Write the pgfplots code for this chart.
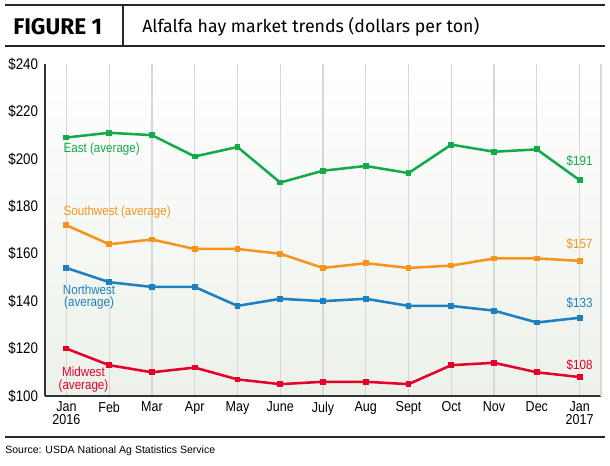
\documentclass[border=0pt]{standalone}
\usepackage{pgfplots}
\pgfplotsset{compat=1.18}
\usepackage{fontspec}
\setmainfont{Liberation Sans}
\newfontfamily\condfont[FakeStretch=0.87]{Liberation Sans}
\newfontfamily\headfont{Fira Sans}
\definecolor{cEast}{RGB}{19,170,75}
\definecolor{cSW}{RGB}{247,148,29}
\definecolor{cNW}{RGB}{30,128,192}
\definecolor{cMW}{RGB}{228,0,43}
\definecolor{cGrid}{RGB}{215,215,215}
\definecolor{cBg}{RGB}{236,241,233}
\begin{document}
\begin{tikzpicture}
\path[use as bounding box] (0,0) rectangle (457.5pt,-348.75pt);
% header
\draw[line width=1.6pt,black!85] (3.75pt,-3.75pt) -- (453.75pt,-3.75pt);
\draw[line width=1.4pt,black!85] (3.75pt,-34.5pt) -- (453.75pt,-34.5pt);
\draw[line width=0.8pt,black!85] (92.25pt,-3.75pt) -- (92.25pt,-34.5pt);
\node[anchor=west,inner sep=0pt] at (9.75pt,-19.9pt) {\headfont\bfseries\fontsize{17}{17}\selectfont FIGURE 1};
\node[anchor=west,inner sep=0pt] at (106.5pt,-20.2pt) {\headfont\fontsize{13.3}{13.3}\selectfont Alfalfa hay market trends (dollars per ton)};
% footer
\draw[line width=1.6pt,black!85] (3.75pt,-327.75pt) -- (453.75pt,-327.75pt);
\node[anchor=west,inner sep=0pt] at (3.75pt,-338.25pt) {\fontsize{7.9}{8}\selectfont Source: USDA National Ag Statistics Service};
\begin{axis}[
  at={(33.75pt,-297pt)}, anchor=south west,
  scale only axis, width=417pt, height=249pt,
  xmin=-0.5, xmax=12.5, ymin=100, ymax=240,
  axis x line*=bottom, axis y line*=left,
  axis line style={-, draw=black!80, line width=0.8pt},
  axis background/.style={top color=white, bottom color=cBg},
  xtick={0,...,12},
  xticklabels={{Jan\\2016},Feb,Mar,Apr,May,June,July,Aug,Sept,Oct,Nov,Dec,{Jan\\2017}},
  xticklabel style={align=center, inner sep=0pt, yshift=-4pt, font=\condfont\fontsize{10.8}{9.8}\selectfont},
  extra x ticks={12.5}, extra x tick labels={},
  extra x tick style={grid=major},
  ytick={100,120,...,240},
  yticklabels={\$100,\$120,\$140,\$160,\$180,\$200,\$220,\$240},
  yticklabel style={inner sep=0pt, xshift=-5pt, font=\condfont\fontsize{11.5}{11.5}\selectfont},
  major tick length=0pt,
  xmajorgrids=true,
  grid style={draw=cGrid, line width=0.9pt},
  clip=false,
  every axis plot/.append style={line width=1.9pt, mark=square*, mark size=1.8pt, mark options={solid, line width=0pt}},
]
\addplot[color=cEast] coordinates {(0,209)(1,211)(2,210)(3,201)(4,205)(5,190)(6,195)(7,197)(8,194)(9,206)(10,203)(11,204)(12,191)};
\addplot[color=cSW] coordinates {(0,172)(1,164)(2,166)(3,162)(4,162)(5,160)(6,154)(7,156)(8,154)(9,155)(10,158)(11,158)(12,157)};
\addplot[color=cNW] coordinates {(0,154)(1,148)(2,146)(3,146)(4,138)(5,141)(6,140)(7,141)(8,138)(9,138)(10,136)(11,131)(12,133)};
\addplot[color=cMW] coordinates {(0,120)(1,113)(2,110)(3,112)(4,107)(5,105)(6,106)(7,106)(8,105)(9,113)(10,114)(11,110)(12,108)};
\begin{scope}[every node/.style={inner sep=0pt, font=\condfont\fontsize{10}{9.3}\selectfont, align=center}]
\node[anchor=west, text=cEast] at (axis cs:-0.07,204.2) {East (average)};
\node[anchor=west, text=cSW] at (axis cs:-0.07,177.6) {Southwest (average)};
\node[text=cNW] at (axis cs:0.53,141.8) {Northwest\\(average)};
\node[text=cMW] at (axis cs:0.4,107) {Midwest\\(average)};
\node[text=cEast] at (axis cs:12,199.1) {\$191};
\node[text=cSW] at (axis cs:12,164.1) {\$157};
\node[text=cNW] at (axis cs:12,139.2) {\$133};
\node[text=cMW] at (axis cs:12,113.1) {\$108};
\end{scope}
\end{axis}
\end{tikzpicture}
\end{document}
